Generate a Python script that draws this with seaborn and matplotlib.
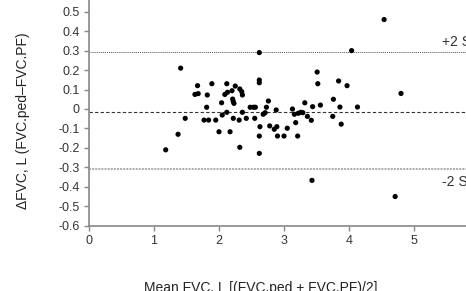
import matplotlib
matplotlib.use("Agg")
import matplotlib.pyplot as plt
import seaborn as sns
import pandas as pd

# Bland-Altman data
mean_fvc = [1.18, 1.37, 1.41, 1.48, 1.63, 1.68, 1.67, 1.82, 1.81, 1.77,
            1.84, 1.95, 1.89, 2.00, 2.04, 2.05, 2.09, 2.12, 2.12, 2.13,
            2.17, 2.20, 2.21, 2.22, 2.23, 2.22, 2.25, 2.31, 2.32, 2.35,
            2.36, 2.36, 2.32, 2.42, 2.48, 2.53, 2.56, 2.55, 2.62, 2.62,
            2.62, 2.63, 2.62, 2.62, 2.68, 2.71, 2.73, 2.76, 2.78, 2.85,
            2.89, 2.88, 2.90, 3.00, 3.05, 3.13, 3.16, 3.22, 3.26, 3.18,
            3.21, 3.29, 3.32, 3.36, 3.42, 3.44, 3.43, 3.51, 3.52, 3.56,
            3.75, 3.76, 3.84, 3.86, 3.88, 3.97, 4.04, 4.13, 4.54, 4.71,
            4.80]
diff_fvc = [-0.21, -0.13, 0.21, -0.048, 0.075, 0.079, 0.12, 0.072, 0.009, -0.057,
            -0.057, -0.057, 0.13, -0.117, 0.032, -0.031, 0.075, 0.13, -0.017, 0.086,
            -0.117, 0.094, 0.051, 0.038, 0.029, -0.048, 0.118, -0.057, 0.103, 0.089,
            0.072, -0.017, -0.197, -0.048, 0.009, 0.009, 0.009, -0.048, 0.29, 0.149,
            0.135, -0.091, -0.139, -0.228, -0.027, -0.019, 0.009, 0.041, -0.087, -0.104,
            -0.091, -0.005, -0.139, -0.139, -0.099, 0.0, -0.027, -0.022, -0.017, -0.07,
            -0.139, -0.019, 0.032, -0.038, -0.058, 0.012, -0.367, 0.19, 0.13, 0.02,
            -0.038, 0.05, 0.144, 0.01, -0.078, 0.12, 0.30, 0.01, 0.46, -0.45,
            0.08]

mean_diff = -0.015
upper_sd = 0.293
lower_sd = -0.308

x_ticks = [0, 1, 2, 3, 4, 5, 6]
y_ticks = [-0.6, -0.5, -0.4, -0.3, -0.2, -0.1, 0, 0.1, 0.2, 0.3, 0.4, 0.5]
y_tick_labels = ['-0.6', '-0.5', '-0.4', '-0.3', '-0.2', '-0.1', '0',
                 '0.1', '0.2', '0.3', '0.4', '0.5']

df = pd.DataFrame({'mean': mean_fvc, 'diff': diff_fvc})

sns.set_style("ticks")
plt.rcParams['font.family'] = ['Liberation Sans', 'DejaVu Sans']
plt.rcParams['axes.unicode_minus'] = False

fig = plt.figure(figsize=(4.66, 2.91), dpi=100)
ax = fig.add_axes([89 / 466, (291 - 225.7) / 291, 390 / 466, 233.4 / 291])

sns.scatterplot(data=df, x='mean', y='diff', color='black', s=14,
                edgecolor='none', ax=ax, zorder=3)

ax.axhline(upper_sd, color='#555555', lw=0.7, ls=(0, (1, 1)))
ax.axhline(mean_diff, color='#333333', lw=0.8, ls=(0, (3, 2)))
ax.axhline(lower_sd, color='#aaaaaa', lw=1.4, ls=(0, (1, 0.6)))

ax.text(5.43, 0.346, '+2 SD', fontsize=10, color='#333333', va='center', ha='left')
ax.text(5.43, -0.374, '-2 SD', fontsize=10, color='#333333', va='center', ha='left')

ax.set_xlim(0, 6)
ax.set_ylim(-0.6, 0.6)
ax.set_xticks(x_ticks)
ax.set_yticks(y_ticks)
ax.set_yticklabels(y_tick_labels)

sns.despine(ax=ax)
for side in ['left', 'bottom']:
    ax.spines[side].set_color('#888888')
    ax.spines[side].set_linewidth(1.2)
ax.tick_params(axis='both', length=3.5, width=1.0, color='#888888',
               labelsize=9, labelcolor='#333333', pad=3)

ax.set_xlabel('Mean FVC, L [(FVC.ped + FVC.PF)/2]', fontsize=10, color='#222222')
ax.set_ylabel('\u0394FVC, L (FVC.ped\u2013FVC.PF)', fontsize=10, color='#222222')
ax.xaxis.set_label_coords(0.441, -0.235)
ax.yaxis.set_label_coords(-0.15, 0.45)

fig.savefig('out.png', dpi=100)
